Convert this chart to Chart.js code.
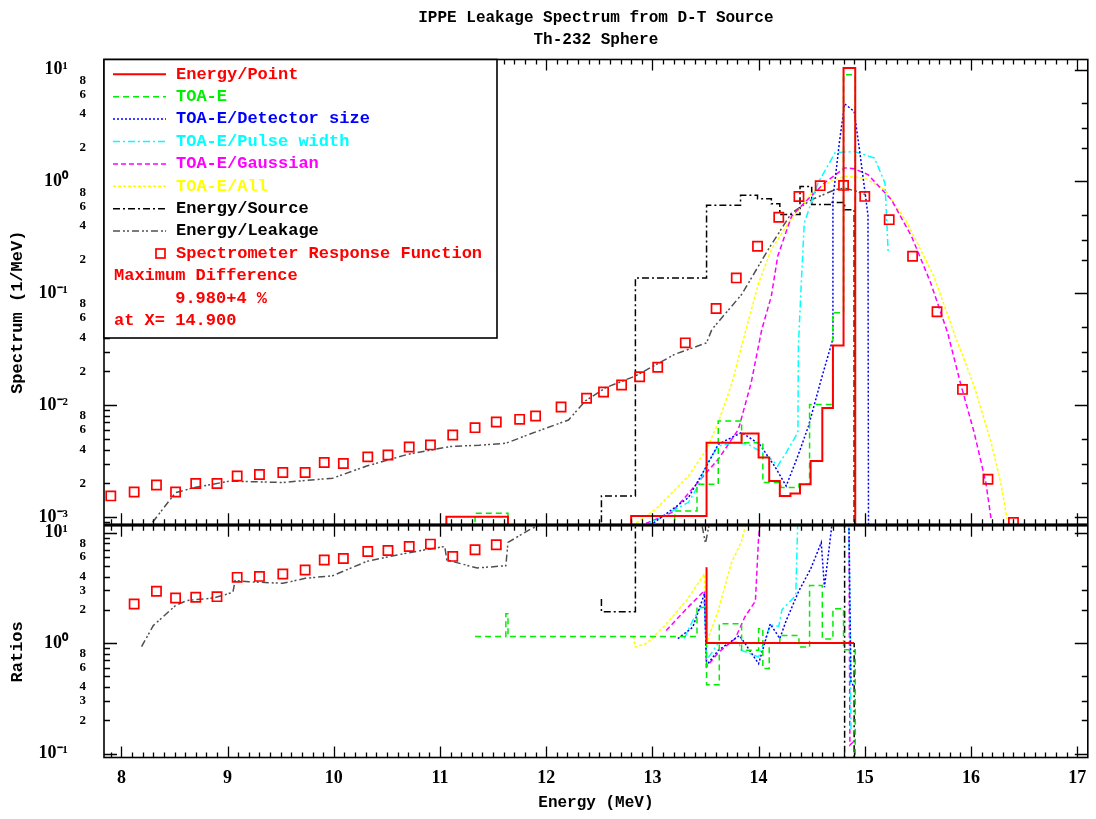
<!DOCTYPE html>
<html>
<head>
<meta charset="utf-8">
<title>IPPE Leakage Spectrum from D-T Source</title>
<script src="https://cdn.jsdelivr.net/npm/chart.js@4.4.1/dist/chart.umd.min.js"></script>
<style>
  html, body { margin: 0; padding: 0; background: #fff; }
  #wrap { position: relative; width: 1096px; height: 819px; overflow: hidden; }
  #wrap canvas { position: absolute; left: 0; }
</style>
</head>
<body>
<div id="wrap">
  <canvas id="spectrum" width="1096" height="545" style="top:0"></canvas>
  <canvas id="ratios" width="1096" height="314" style="top:505px"></canvas>
</div>
<script>
// ---- x axis (MeV)
const xRange = [7.836, 17.10];
const xTickLabels = [8, 9, 10, 11, 12, 13, 14, 15, 16, 17];

// ---- upper panel : spectrum (1/MeV)
const spectrumRange = [8.6e-4, 12.3];
const spectrumDecades = [-3, -2, -1, 0, 1];
const spectrumMinorLabels = [2, 4, 6, 8];

// Spectrometer Response Function (squares)
const srfE = [7.90, 8.12, 8.33, 8.51, 8.70, 8.90, 9.09, 9.30, 9.52, 9.73, 9.91, 10.09, 10.32, 10.51,
  10.71, 10.91, 11.12, 11.33, 11.53, 11.75, 11.90, 12.14, 12.38, 12.54, 12.71, 12.88, 13.05, 13.31,
  13.60, 13.79, 13.99, 14.19, 14.38, 14.58, 14.80, 15.00, 15.23, 15.45, 15.68, 15.92, 16.16, 16.40];
const srfY = [1.54e-3, 1.67e-3, 1.93e-3, 1.67e-3, 1.99e-3, 1.99e-3, 2.32e-3, 2.39e-3, 2.49e-3, 2.49e-3,
  3.06e-3, 3.00e-3, 3.44e-3, 3.58e-3, 4.22e-3, 4.40e-3, 5.40e-3, 6.28e-3, 7.05e-3, 7.45e-3, 7.98e-3,
  9.60e-3, 1.15e-2, 1.31e-2, 1.51e-2, 1.79e-2, 2.18e-2, 3.60e-2, 7.30e-2, 0.137, 0.263, 0.478, 0.733,
  0.916, 0.921, 0.734, 0.455, 0.214, 6.83e-2, 1.38e-2, 2.17e-3, 8.9e-4];

// Energy/Leakage
const leakE = [8.19, 8.28, 8.40, 8.51, 8.69, 9.02, 9.52, 9.99, 10.31, 10.70, 11.10, 11.37, 11.62, 11.84,
  12.21, 12.37, 12.56, 12.84, 13.21, 13.51, 13.56, 13.84, 14.09, 14.31, 14.50, 14.72, 14.81, 14.92, 15.01];
const leakY = [6.5e-4, 8.6e-4, 1.21e-3, 1.65e-3, 1.83e-3, 2.09e-3, 2.03e-3, 2.22e-3, 2.85e-3, 3.63e-3,
  4.26e-3, 4.37e-3, 4.55e-3, 5.47e-3, 7.35e-3, 1.09e-2, 1.43e-2, 1.82e-2, 2.84e-2, 3.60e-2, 4.74e-2,
  9.73e-2, 0.245, 0.522, 0.687, 0.843, 0.873, 0.815, 0.760];

// Energy/Source (histogram: bin edges + bin values)
const srcEdges = [12.52, 12.84, 13.51, 13.83, 13.99, 14.12, 14.20, 14.39, 14.50, 14.69, 14.81, 14.90];
const srcVals = [1.54e-3, 0.137, 0.611, 0.750, 0.701, 0.632, 0.505, 0.901, 0.620, 0.649, 0.559];

// Energy/Point (histogram, 0 = empty bin)
const pointEdges = [11.06, 11.64, 12.80, 13.51, 13.84, 14.00, 14.10, 14.20, 14.30, 14.39, 14.49, 14.60, 14.70, 14.80, 14.91];
const pointVals = [1.0e-3, 0, 1.02e-3, 4.61e-3, 5.56e-3, 3.39e-3, 2.09e-3, 1.54e-3, 1.62e-3, 1.96e-3, 3.16e-3, 9.4e-3, 3.4e-2, 10.3];

// TOA-E (histogram)
const toaEdges = [11.33, 11.64, 13.21, 13.42, 13.62, 13.84, 14.04, 14.21, 14.38, 14.48, 14.70, 14.80, 14.91];
const toaVals = [1.08e-3, 0, 1.13e-3, 1.96e-3, 7.2e-3, 4.61e-3, 2.03e-3, 1.83e-3, 1.96e-3, 1.01e-2, 6.68e-2, 8.97];

// TOA-E/Detector size
const detE = [12.95, 13.34, 13.51, 13.62, 13.84, 14.01, 14.15, 14.26, 14.37, 14.47, 14.59, 14.70, 14.70, 14.76, 14.81, 14.90, 14.95, 15.03, 15.04];
const detY = [8.0e-4, 1.49e-3, 2.85e-3, 4.46e-3, 5.68e-3, 4.46e-3, 2.85e-3, 1.89e-3, 3.51e-3, 6.49e-3, 1.70e-2, 3.9e-2, 0.70, 2.2, 4.94, 4.22, 1.92, 0.50, 0];

// TOA-E/Pulse width
const pulseE = [12.93, 13.34, 13.43, 13.51, 13.62, 13.78, 13.90, 14.01, 14.12, 14.18, 14.26, 14.37, 14.375, 14.40, 14.43, 14.56, 14.72, 14.90, 15.09, 15.19, 15.22];
const pulseY = [8.3e-4, 1.35e-3, 1.89e-3, 2.95e-3, 4.31e-3, 4.61e-3, 4.46e-3, 3.88e-3, 3.27e-3, 2.85e-3, 3.76e-3, 5.68e-3, 3.37e-2, 0.112, 0.425, 0.968, 1.80, 1.85, 1.62, 0.968, 0.237];

// TOA-E/Gaussian
const gaussE = [12.87, 13.18, 13.51, 13.62, 13.81, 13.93, 14.03, 14.12, 14.18, 14.31, 14.43, 14.62, 14.81, 14.90, 15.03, 15.25, 15.44, 15.62, 15.78, 15.90, 16.03, 16.14, 16.19];
const gaussY = [8.2e-4, 1.09e-3, 2.49e-3, 3.27e-3, 6.07e-3, 1.58e-2, 4.74e-2, 9.4e-2, 0.214, 0.487, 0.641, 0.968, 1.32, 1.30, 1.15, 0.687, 0.323, 0.124, 4.43e-2, 1.58e-2, 5.68e-3, 2.03e-3, 9.5e-4];

// TOA-E/All
const allE = [12.81, 13.03, 13.34, 13.51, 13.62, 13.75, 13.84, 14.00, 14.12, 14.28, 14.50, 14.68, 14.81, 15.00, 15.19, 15.40, 15.65, 15.84, 16.03, 16.19, 16.28, 16.34];
const allY = [8.3e-4, 1.17e-3, 2.32e-3, 4.02e-3, 6.97e-3, 1.58e-2, 3.37e-2, 0.124, 0.245, 0.425, 0.787, 1.0, 1.11, 1.07, 0.843, 0.425, 0.142, 4.43e-2, 1.48e-2, 4.61e-3, 2.03e-3, 9.5e-4];

// ---- lower panel : ratios
const ratioRange = [0.0924, 11.5];
const ratioDecades = [-1, 0, 1];
const ratioMinorLabels = [2, 3, 4, 6, 8];

const srfRatioE = [8.12, 8.33, 8.51, 8.70, 8.90, 9.09, 9.30, 9.52, 9.73, 9.91, 10.09, 10.32, 10.51, 10.71, 10.91, 11.12, 11.33, 11.53];
const srfRatioY = [2.26, 2.94, 2.56, 2.60, 2.63, 3.93, 4.01, 4.22, 4.58, 5.64, 5.83, 6.74, 6.88, 7.48, 7.86, 6.08, 6.98, 7.75];

const leakRatioE = [8.19, 8.30, 8.51, 8.62, 8.87, 9.05, 9.07, 9.20, 9.52, 9.73, 9.99, 10.31, 10.56, 10.81, 11.045, 11.064, 11.35, 11.62, 11.64, 11.85, 12.12, 13.45, 13.50, 13.55];
const leakRatioY = [0.93, 1.44, 2.19, 2.43, 2.56, 2.88, 3.67, 3.59, 3.47, 3.85, 4.07, 5.48, 6.17, 6.84, 7.48, 5.64, 4.78, 5.01, 8.13, 10.7, 14, 14, 8.0, 14];

const srcRatioE = [12.52, 12.52, 12.84, 12.84, 14.81, 14.81, 14.90, 14.90];
const srcRatioY = [2.5, 1.92, 1.92, 20, 20, 0.01, 0.01, 1.0];

const pointRatioE = [13.51, 13.51, 14.90];
const pointRatioY = [4.84, 1.0, 1.0];

const toaRatioEdges = [11.33, 11.62, 11.64, 13.42, 13.51, 13.63, 13.84, 14.00, 14.04, 14.10, 14.20, 14.38, 14.48, 14.60, 14.70, 14.80, 14.91];
const toaRatioVals = [1.15, 1.84, 1.15, 2.1, 0.42, 1.5, 0.86, 1.35, 0.59, 1.0, 1.17, 0.92, 3.31, 1.09, 2.04, 0.87];

const detRatioE = [13.24, 13.38, 13.49, 13.51, 13.62, 13.82, 13.87, 14.00, 14.11, 14.20, 14.26, 14.38, 14.49, 14.59, 14.62, 14.70, 14.85, 14.87, 14.90];
const detRatioY = [1.1, 1.39, 2.79, 0.63, 0.86, 1.17, 1.0, 0.65, 1.49, 1.1, 1.6, 2.98, 4.68, 8.1, 3.2, 14, 14, 0.45, 0.40];

const pulseRatioE = [13.30, 13.38, 13.49, 13.51, 13.62, 13.81, 13.84, 14.00, 14.11, 14.19, 14.22, 14.35, 14.37, 14.85, 14.87, 14.90];
const pulseRatioY = [1.1, 1.6, 2.4, 0.70, 1.0, 1.02, 0.86, 0.75, 1.46, 1.42, 2.0, 2.7, 14, 14, 0.17, 0.16];

const gaussRatioE = [13.13, 13.32, 13.49, 13.51, 13.62, 13.78, 13.87, 13.97, 14.00, 14.02, 14.85, 14.86, 14.90];
const gaussRatioY = [1.3, 2.04, 2.98, 0.61, 0.82, 1.1, 1.72, 2.4, 9.0, 14, 14, 0.12, 0.13];

const allRatioE = [12.82, 12.84, 12.95, 13.12, 13.32, 13.49, 13.51, 13.62, 13.74, 13.84, 13.90];
const allRatioY = [1.15, 0.92, 1.0, 1.45, 2.42, 4.22, 1.0, 1.97, 5.19, 8.4, 14];

// ---- series looks
const S = {
  point:  { label: 'Energy/Point',          color: '#ff0000', dash: [],               width: 2 },
  toa:    { label: 'TOA-E',                 color: '#00ee00', dash: [6, 4] },
  det:    { label: 'TOA-E/Detector size',   color: '#0000ff', dash: [2, 2] },
  pulse:  { label: 'TOA-E/Pulse width',     color: '#00ffff', dash: [7, 3, 2, 3] },
  gauss:  { label: 'TOA-E/Gaussian',        color: '#ff00ff', dash: [5, 3] },
  all:    { label: 'TOA-E/All',             color: '#ffff00', dash: [3, 2] },
  source: { label: 'Energy/Source',         color: '#000000', dash: [7, 3, 2, 3] },
  leak:   { label: 'Energy/Leakage',        color: '#505050', dash: [7, 3, 2, 2, 2, 3], text: '#000000' },
  srf:    { label: 'Spectrometer Response Function', color: '#ff0000' }
};
const notes = ['Maximum Difference', '      9.980+4 %', 'at X= 14.900'];

// ---- helpers
const FLOOR = 1e-6; // empty bin, below the log axis
const MONO = '"Liberation Mono", monospace';
const SERIF = '"Liberation Serif", serif';

function curve(xs, ys) {
  return xs.map((x, i) => ({ x: x, y: ys[i] > 0 ? ys[i] : FLOOR }));
}
function histogram(edges, vals, fromAxis) {
  const pts = [];
  if (fromAxis) pts.push({ x: edges[0], y: FLOOR });
  vals.forEach((v, i) => pts.push({ x: edges[i], y: v > 0 ? v : FLOOR }));
  const end = edges[edges.length - 1];
  pts.push({ x: end, y: vals[vals.length - 1] });
  pts.push({ x: end, y: FLOOR });
  return pts;
}
function lineSet(s, data, stepped) {
  return {
    label: s.label, data: data, borderColor: s.color, borderWidth: s.width || 1.5,
    borderDash: s.dash, pointRadius: 0, fill: false, tension: 0,
    stepped: stepped ? 'before' : false, textColor: s.text
  };
}
function squareSet(s, xs, ys) {
  return {
    label: s.label, data: curve(xs, ys), showLine: false, order: -1,
    borderColor: s.color, pointStyle: 'rect', pointRadius: 6.5,
    pointBorderColor: s.color, pointBackgroundColor: 'rgba(0,0,0,0)', pointBorderWidth: 1.7
  };
}

const SUP = { '-': '\u207B', '0': '\u2070', '1': '\u00B9', '2': '\u00B2', '3': '\u00B3' };
function logLabel(v) {
  const e = Math.floor(Math.log10(v) + 1e-9);
  const m = Math.round(v / Math.pow(10, e));
  if (m === 1) return '10' + String(e).split('').map(c => SUP[c]).join('') + '    ';
  return String(m);
}
function logTicks(scale, decades, minors) {
  const t = [];
  decades.forEach(d => {
    t.push({ value: Math.pow(10, d), major: true });
    minors.forEach(m => t.push({ value: m * Math.pow(10, d), major: false }));
  });
  scale.ticks = t.filter(k => k.value >= scale.min && k.value <= scale.max)
    .sort((a, b) => a.value - b.value);
}

// inward tick marks and frame
const frameTicks = {
  id: 'frameTicks',
  afterDatasetsDraw(chart) {
    const { ctx, chartArea: a, scales } = chart;
    const xs = scales.x, ys = scales.y;
    ctx.save();
    ctx.strokeStyle = '#000';
    ctx.lineWidth = 1.3;
    ctx.setLineDash([]);
    ctx.beginPath();
    for (let k = 79; k <= 171; k++) {
      const px = Math.round(xs.getPixelForValue(k / 10)) + 0.5;
      if (px < a.left || px > a.right) continue;
      const len = k % 10 === 0 ? 11 : 5;
      ctx.moveTo(px, a.top); ctx.lineTo(px, a.top + len);
      ctx.moveTo(px, a.bottom); ctx.lineTo(px, a.bottom - len);
    }
    const d0 = Math.floor(Math.log10(ys.min)), d1 = Math.ceil(Math.log10(ys.max));
    for (let d = d0; d <= d1; d++) {
      for (let m = 1; m <= 9; m++) {
        const v = m * Math.pow(10, d);
        if (v < ys.min || v > ys.max) continue;
        const py = Math.round(ys.getPixelForValue(v)) + 0.5;
        const len = m === 1 ? 13 : 6;
        ctx.moveTo(a.left, py); ctx.lineTo(a.left + len, py);
        if (m === 1 || m === 2 || m === 3 || m === 5) {
          ctx.moveTo(a.right, py); ctx.lineTo(a.right - len, py);
        }
      }
    }
    ctx.stroke();
    ctx.lineWidth = 1.6;
    ctx.strokeRect(a.left, a.top, a.right - a.left, a.bottom - a.top);
    ctx.restore();
  }
};

// boxed legend in the upper-left corner of the spectrum panel
const boxLegend = {
  id: 'boxLegend',
  afterDraw(chart) {
    const { ctx, chartArea: a } = chart;
    const w = 393, h = 278.5, rowH = 22.4, y0 = a.top + 14.8;
    ctx.save();
    ctx.fillStyle = '#fff';
    ctx.fillRect(a.left, a.top, w, h);
    ctx.strokeStyle = '#000';
    ctx.lineWidth = 1.6;
    ctx.setLineDash([]);
    ctx.strokeRect(a.left, a.top, w, h);
    ctx.font = 'bold 17px ' + MONO;
    ctx.textBaseline = 'middle';
    ctx.textAlign = 'left';
    chart.data.datasets.forEach((ds, i) => {
      const y = y0 + i * rowH;
      ctx.strokeStyle = ds.borderColor;
      if (ds.showLine === false) {
        ctx.lineWidth = 1.7;
        ctx.setLineDash([]);
        ctx.strokeRect(a.left + 52, y - 4.5, 9, 9);
      } else {
        ctx.lineWidth = ds.borderWidth;
        ctx.setLineDash(ds.borderDash || []);
        ctx.beginPath();
        ctx.moveTo(a.left + 9, y); ctx.lineTo(a.left + 62, y);
        ctx.stroke();
      }
      ctx.fillStyle = ds.textColor || ds.borderColor;
      ctx.fillText(ds.label, a.left + 72, y);
    });
    ctx.fillStyle = '#ff0000';
    notes.forEach((t, j) => {
      ctx.fillText(t, a.left + 10, y0 + (chart.data.datasets.length + j) * rowH);
    });
    ctx.restore();
  }
};

const tickFont = ctx => (ctx.tick && ctx.tick.major)
  ? { family: SERIF, size: 18, weight: 'bold' }
  : { family: SERIF, size: 13, weight: 'bold' };

function yAxis(range, decades, minors, titleText) {
  return {
    type: 'logarithmic', position: 'left', min: range[0], max: range[1],
    afterFit: s => { s.width = 104; },
    afterBuildTicks: s => logTicks(s, decades, minors),
    grid: { display: false }, border: { display: false },
    ticks: { autoSkip: false, padding: 10, color: '#000', font: tickFont, callback: v => logLabel(v) },
    title: { display: true, text: titleText, color: '#000',
      font: { family: MONO, size: 17, weight: 'bold' }, padding: { top: 8, bottom: 0 } }
  };
}

// ---- upper chart
new Chart(document.getElementById('spectrum'), {
  type: 'line',
  data: {
    datasets: [
      lineSet(S.point, histogram(pointEdges, pointVals, true), true),
      lineSet(S.toa, histogram(toaEdges, toaVals, true), true),
      lineSet(S.det, curve(detE, detY)),
      lineSet(S.pulse, curve(pulseE, pulseY)),
      lineSet(S.gauss, curve(gaussE, gaussY)),
      lineSet(S.all, curve(allE, allY)),
      lineSet(S.source, histogram(srcEdges, srcVals, true), true),
      lineSet(S.leak, curve(leakE, leakY)),
      squareSet(S.srf, srfE, srfY)
    ]
  },
  options: {
    responsive: false, animation: false, devicePixelRatio: 1,
    layout: { padding: { left: 0, right: 5, top: 0, bottom: 20 } },
    plugins: {
      legend: { display: false },
      tooltip: { enabled: false },
      title: {
        display: true, fullSize: false, color: '#000',
        text: ['IPPE Leakage Spectrum from D-T Source', 'Th-232 Sphere'],
        font: { family: MONO, size: 16, weight: 'bold', lineHeight: 1.375 },
        padding: { top: 7, bottom: 8.5 }
      }
    },
    scales: {
      x: { type: 'linear', min: xRange[0], max: xRange[1], display: false },
      y: yAxis(spectrumRange, spectrumDecades, spectrumMinorLabels, 'Spectrum (1/MeV)    ')
    }
  },
  plugins: [frameTicks, boxLegend]
});

// ---- lower chart
new Chart(document.getElementById('ratios'), {
  type: 'line',
  data: {
    datasets: [
      lineSet(S.point, curve(pointRatioE, pointRatioY)),
      lineSet(S.toa, histogram(toaRatioEdges, toaRatioVals, false), true),
      lineSet(S.det, curve(detRatioE, detRatioY)),
      lineSet(S.pulse, curve(pulseRatioE, pulseRatioY)),
      lineSet(S.gauss, curve(gaussRatioE, gaussRatioY)),
      lineSet(S.all, curve(allRatioE, allRatioY)),
      lineSet(S.source, curve(srcRatioE, srcRatioY)),
      lineSet(S.leak, curve(leakRatioE, leakRatioY)),
      squareSet(S.srf, srfRatioE, srfRatioY)
    ]
  },
  options: {
    responsive: false, animation: false, devicePixelRatio: 1,
    layout: { padding: { left: 0, right: 5, top: 20, bottom: 0 } },
    plugins: { legend: { display: false }, tooltip: { enabled: false } },
    scales: {
      x: {
        type: 'linear', min: xRange[0], max: xRange[1],
        afterFit: s => { s.height = 61.5; },
        afterBuildTicks: s => { s.ticks = xTickLabels.map(v => ({ value: v })); },
        grid: { display: false }, border: { display: false },
        ticks: { color: '#000', padding: 2, font: { family: SERIF, size: 18, weight: 'bold' } },
        title: { display: true, text: 'Energy (MeV)', color: '#000',
          font: { family: MONO, size: 16, weight: 'bold' }, padding: { top: 0, bottom: 6.4 } }
      },
      y: yAxis(ratioRange, ratioDecades, ratioMinorLabels, 'Ratios  ')
    }
  },
  plugins: [frameTicks]
});
</script>
</body>
</html>
